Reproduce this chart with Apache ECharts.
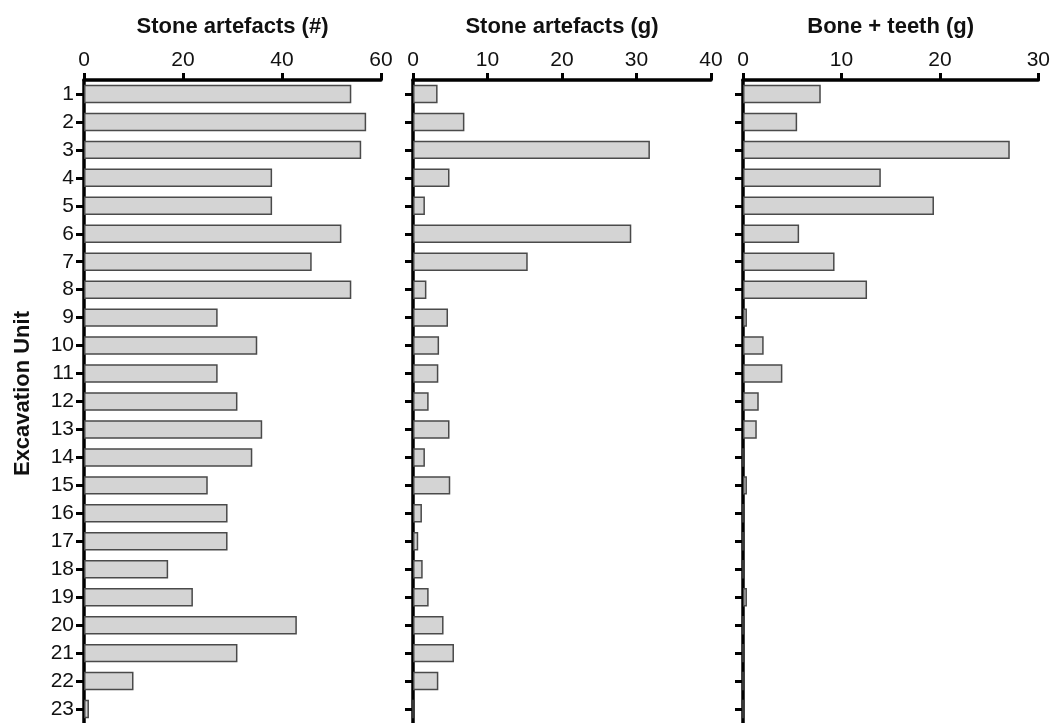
<!DOCTYPE html>
<html>
<head>
<meta charset="utf-8">
<style>
  html, body { margin: 0; padding: 0; background: #ffffff; }
  #chart { width: 1053px; height: 723px; }
</style>
<script src="https://cdn.jsdelivr.net/npm/echarts@6/dist/echarts.min.js"></script>
</head>
<body>
<div id="chart"></div>
<script>
// Excavation units, top to bottom
const units = ['1','2','3','4','5','6','7','8','9','10','11','12','13','14','15','16','17','18','19','20','21','22','23'];

// Stone artefacts, count per unit
const stoneCount = [54, 57, 56, 38, 38, 52, 46, 54, 27, 35, 27, 31, 36, 34, 25, 29, 29, 17, 22, 43, 31, 10, 1];

// Stone artefacts, weight (g) per unit
const stoneWeight = [3.3, 6.9, 31.8, 4.9, 1.6, 29.3, 15.4, 1.8, 4.7, 3.5, 3.4, 2.1, 4.9, 1.6, 5.0, 1.2, 0.7, 1.3, 2.1, 4.1, 5.5, 3.4, 0];

// Bone + teeth, weight (g) per unit
const boneWeight = [7.9, 5.5, 27.1, 14.0, 19.4, 5.7, 9.3, 12.6, 0.4, 2.1, 4.0, 1.6, 1.4, 0, 0.4, 0, 0, 0, 0.4, 0, 0, 0, 0];

// Panel headings and value-axis ranges
const panelTitles = ['Stone artefacts (#)', 'Stone artefacts (g)', 'Bone + teeth (g)'];
const axisMax = [60, 40, 30];
const axisStep = [20, 10, 10];
const yTitle = 'Excavation Unit';

const FONT = '"Liberation Sans", Arial, sans-serif';
const panelLeft = [84, 413, 743];
const panelWidth = [297, 298, 298];
const seriesData = [stoneCount, stoneWeight, boneWeight];

const grids = [], xAxes = [], yAxes = [], series = [];
for (let i = 0; i < 3; i++) {
  grids.push({ left: panelLeft[i], width: panelWidth[i], top: 80, height: 644, containLabel: false });
  xAxes.push({
    type: 'value', gridIndex: i, position: 'top',
    min: 0, max: axisMax[i], interval: axisStep[i],
    name: panelTitles[i], nameLocation: 'middle', nameGap: 42,
    nameTextStyle: { fontFamily: FONT, fontWeight: 'bold', fontSize: 22, color: '#111' },
    axisLine: { show: true, lineStyle: { color: '#000', width: 3.5 } },
    axisTick: { show: true, length: 7, lineStyle: { color: '#000', width: 3 } },
    axisLabel: { fontFamily: FONT, fontSize: 21, color: '#111', margin: 9 },
    splitLine: { show: false }
  });
  yAxes.push({
    type: 'category', gridIndex: i, data: units, inverse: true,
    axisLine: { show: true, lineStyle: { color: '#000', width: 3.5 } },
    axisTick: { show: true, alignWithLabel: true, length: 8, lineStyle: { color: '#000', width: 3 } },
    axisLabel: { show: i === 0, fontFamily: FONT, fontSize: 21, color: '#111', margin: 10 },
    splitLine: { show: false }
  });
  series.push({
    type: 'bar', xAxisIndex: i, yAxisIndex: i,
    data: seriesData[i], barWidth: '66%',
    itemStyle: { color: '#d4d4d4', borderColor: '#4a4a4a', borderWidth: 1.5 },
    silent: true
  });
}

const chart = echarts.init(document.getElementById('chart'), null, { renderer: 'canvas' });
chart.setOption({
  animation: false,
  backgroundColor: '#ffffff',
  grid: grids,
  xAxis: xAxes,
  yAxis: yAxes,
  series: series,
  graphic: [{
    type: 'text', left: 12, top: 311, rotation: Math.PI / 2,
    style: { text: yTitle, font: 'bold 22px ' + FONT, fill: '#111' }
  }]
});
</script>
</body>
</html>
